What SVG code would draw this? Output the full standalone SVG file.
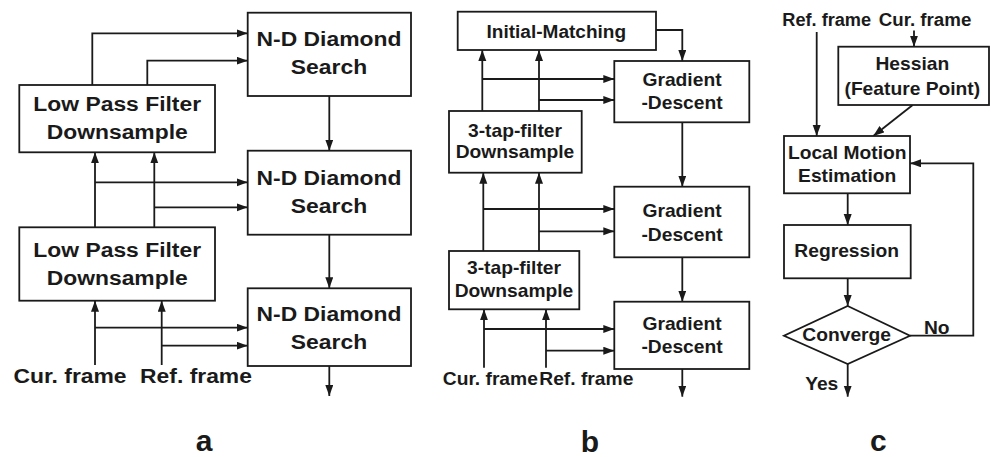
<svg xmlns="http://www.w3.org/2000/svg" width="991" height="457" viewBox="0 0 991 457">
<style>
.box{fill:#fff;stroke:#1a1a1a;stroke-width:1.8}
.ln{fill:none;stroke:#1a1a1a;stroke-width:1.8;marker-end:url(#ah)}
.t{font-family:"Liberation Sans",Arial,sans-serif;font-weight:bold;fill:#1a1a1a;text-anchor:middle}
.ta{font-size:21px}
.tb{font-size:18.5px}
.tc{font-size:18.5px}
.ts{font-size:18px}
.lab{font-size:30px}
</style>
<defs>
<marker id="ah" markerUnits="userSpaceOnUse" markerWidth="12" markerHeight="9" refX="11" refY="4" orient="auto">
<path d="M0,0 L11,4 L0,8 z" fill="#1a1a1a"/>
</marker>
</defs>
<rect width="991" height="457" fill="#fff"/>
<g id="connectors">
<path class="ln" d="M92.3,85 V33.3 H247.7"/>
<path class="ln" d="M147.3,85 V60.7 H247.7"/>
<path class="ln" d="M95,227.3 V152.3"/>
<path class="ln" d="M95,182.3 H247.7"/>
<path class="ln" d="M154.3,227.3 V152.3"/>
<path class="ln" d="M154.3,207.3 H247.7"/>
<path class="ln" d="M95,365 V300.7"/>
<path class="ln" d="M95,327.7 H247.7"/>
<path class="ln" d="M161.7,365 V300.7"/>
<path class="ln" d="M161.7,345.7 H247.7"/>
<path class="ln" d="M329.3,96 V150.7"/>
<path class="ln" d="M329.3,234.7 V288.3"/>
<path class="ln" d="M329.3,366 V396"/>
<path class="ln" d="M656,30 H682.3 V61"/>
<path class="ln" d="M682.3,122.3 V186.7"/>
<path class="ln" d="M682.3,257.3 V301.7"/>
<path class="ln" d="M682.3,369 V396.7"/>
<path class="ln" d="M482.3,111 V50"/>
<path class="ln" d="M539,111 V50"/>
<path class="ln" d="M482.3,79 H614.3"/>
<path class="ln" d="M539,100 H614.3"/>
<path class="ln" d="M483.3,251 V172.7"/>
<path class="ln" d="M539,251 V172.7"/>
<path class="ln" d="M483.3,209 H614.3"/>
<path class="ln" d="M539,231.3 H614.3"/>
<path class="ln" d="M484,367.7 V309.3"/>
<path class="ln" d="M546,367.7 V309.3"/>
<path class="ln" d="M484,329 H614.3"/>
<path class="ln" d="M546,350.7 H614.3"/>
<path class="ln" d="M816.7,32 V136"/>
<path class="ln" d="M914,30.5 V46.7"/>
<path class="ln" d="M912.7,105 L873.3,136"/>
<path class="ln" d="M847.7,193.3 V225"/>
<path class="ln" d="M847.7,278.3 V306"/>
<path class="ln" d="M910,335.7 H973.3 V163.3 H910"/>
<path class="ln" d="M847.7,364 V396.7"/>
</g>
<g id="nd1"><rect class="box" x="247.7" y="12.7" width="163.3" height="83.3"/>
<text class="t ta" transform="translate(329 45.7) scale(1.09 1)">N-D Diamond</text>
<text class="t ta" transform="translate(329 74) scale(1.09 1)">Search</text></g>
<g id="nd2"><rect class="box" x="247.7" y="150.7" width="163.3" height="84"/>
<text class="t ta" transform="translate(329 184.5) scale(1.09 1)">N-D Diamond</text>
<text class="t ta" transform="translate(329 213) scale(1.09 1)">Search</text></g>
<g id="nd3"><rect class="box" x="247.7" y="288.3" width="163.3" height="77.7"/>
<text class="t ta" transform="translate(329 320.7) scale(1.09 1)">N-D Diamond</text>
<text class="t ta" transform="translate(329 348.5) scale(1.09 1)">Search</text></g>
<g id="lpf1"><rect class="box" x="19.3" y="85" width="195.7" height="67.3"/>
<text class="t ta" transform="translate(117.2 111) scale(1.09 1)">Low Pass Filter</text>
<text class="t ta" transform="translate(117.2 139.3) scale(1.09 1)">Downsample</text></g>
<g id="lpf2"><rect class="box" x="19.3" y="227.3" width="195.7" height="73.4"/>
<text class="t ta" transform="translate(117.2 256.7) scale(1.09 1)">Low Pass Filter</text>
<text class="t ta" transform="translate(117.2 285) scale(1.09 1)">Downsample</text></g>
<g id="in-a">
<text class="t ta" transform="translate(70 382.7) scale(1.09 1)">Cur. frame</text>
<text class="t ta" transform="translate(196 382.7) scale(1.09 1)">Ref. frame</text>
<text class="t lab" x="204" y="451">a</text></g>
<g id="im"><rect class="box" x="457.7" y="11.7" width="198.3" height="38.3"/>
<text class="t tb" transform="translate(556.3 38.3) scale(1.03 1)">Initial-Matching</text></g>
<g id="gd1"><rect class="box" x="614.3" y="61" width="135" height="61.3"/>
<text class="t tb" transform="translate(682 86) scale(1.04 1)">Gradient</text>
<text class="t tb" transform="translate(682 109.3) scale(1.04 1)">-Descent</text></g>
<g id="gd2"><rect class="box" x="614.3" y="186.7" width="135" height="70.6"/>
<text class="t tb" transform="translate(682 216.7) scale(1.04 1)">Gradient</text>
<text class="t tb" transform="translate(682 240.7) scale(1.04 1)">-Descent</text></g>
<g id="gd3"><rect class="box" x="614.3" y="301.7" width="135" height="67.3"/>
<text class="t tb" transform="translate(682 330) scale(1.04 1)">Gradient</text>
<text class="t tb" transform="translate(682 353.3) scale(1.04 1)">-Descent</text></g>
<g id="ttf1"><rect class="box" x="449" y="111" width="132.7" height="61.7"/>
<text class="t tb" transform="translate(515 136.7) scale(1.04 1)">3-tap-filter</text>
<text class="t tb" transform="translate(515 158.3) scale(1.04 1)">Downsample</text></g>
<g id="ttf2"><rect class="box" x="449" y="251" width="130.3" height="58.3"/>
<text class="t tb" transform="translate(514 274.3) scale(1.04 1)">3-tap-filter</text>
<text class="t tb" transform="translate(514 296.7) scale(1.04 1)">Downsample</text></g>
<g id="in-b">
<text class="t tb" transform="translate(490.3 385) scale(1.04 1)">Cur. frame</text>
<text class="t tb" transform="translate(586.3 385) scale(1.04 1)">Ref. frame</text>
<text class="t lab" x="590" y="451.5">b</text></g>
<g id="in-c">
<text class="t ts" transform="translate(826.7 26) scale(1.01 1)">Ref. frame</text>
<text class="t ts" transform="translate(925 26) scale(1.04 1)">Cur. frame</text>
<text class="t lab" x="878.3" y="451">c</text></g>
<g id="hes"><rect class="box" x="838.3" y="46.7" width="150.7" height="58.3"/>
<text class="t tc" transform="translate(912.3 69.5) scale(1.04 1)">Hessian</text>
<text class="t tc" transform="translate(912.3 95) scale(1.04 1)">(Feature Point)</text></g>
<g id="lme"><rect class="box" x="784" y="136" width="126" height="57.3"/>
<text class="t tc" transform="translate(847.2 159.3) scale(1.04 1)">Local Motion</text>
<text class="t tc" transform="translate(847.2 181.7) scale(1.04 1)">Estimation</text></g>
<g id="reg"><rect class="box" x="784" y="225" width="126.7" height="53.3"/>
<text class="t tc" transform="translate(846.7 256.7) scale(1.04 1)">Regression</text></g>
<g id="conv"><path class="box" d="M847.7,306 L910,335.7 L847.7,364 L784,335.7 z"/>
<text class="t tc" transform="translate(846.7 340.7) scale(1.04 1)">Converge</text></g>
<g id="lbl-c">
<text class="t tc" transform="translate(936.7 334.3) scale(1.04 1)">No</text>
<text class="t tc" transform="translate(821.7 390) scale(1.04 1)">Yes</text></g>
</svg>
